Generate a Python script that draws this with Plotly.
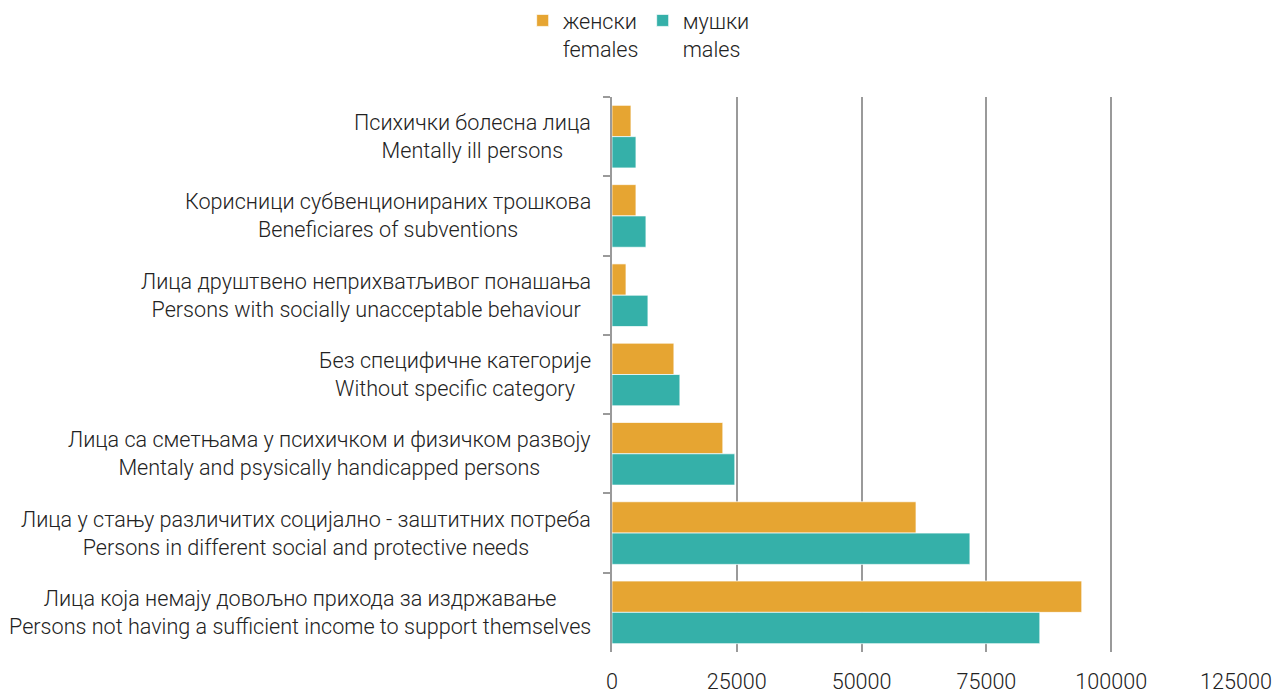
import plotly.graph_objects as go

categories_sr = [
    "Психички болесна лица",
    "Корисници субвенционираних трошкова",
    "Лица друштвено неприхватљивог понашања",
    "Без специфичне категорије",
    "Лица са сметњама у психичком и физичком развоју",
    "Лица у стању различитих социјално - заштитних потреба",
    "Лица која немају довољно прихода за издржавање",
]
categories_en = [
    "Mentally ill persons",
    "Beneficiares of subventions",
    "Persons with socially unacceptable behaviour",
    "Without specific category",
    "Mentaly and psysically handicapped persons",
    "Persons in different social and protective needs",
    "Persons not having a sufficient income to support themselves",
]
females = [3800, 4800, 2800, 12400, 22200, 60900, 94100]
males = [4800, 6800, 7200, 13600, 24600, 71700, 85700]
x_ticks = [0, 25000, 50000, 75000, 100000, 125000]

cats = [f"{a}<br>{b}" for a, b in zip(categories_sr, categories_en)]

FONT = "Roboto"
FS = 21.6
TXT = "#222222"

fig = go.Figure()
fig.add_trace(go.Bar(
    y=cats, x=females, orientation="h", name="женски<br>females",
    marker=dict(color="#E6A532", line=dict(color="rgba(255,255,255,0.7)", width=1)),
))
fig.add_trace(go.Bar(
    y=cats, x=males, orientation="h", name="мушки<br>males",
    marker=dict(color="#35B0A9", line=dict(color="rgba(255,255,255,0.7)", width=1)),
))

for c in cats:
    fig.add_annotation(
        x=0, xref="paper", y=c, yref="y", text=c, showarrow=False,
        xanchor="right", yanchor="middle", align="center", xshift=-19,
        font=dict(family=FONT, size=FS, color=TXT, weight=300),
    )

fig.update_layout(
    width=1277, height=685,
    paper_bgcolor="white", plot_bgcolor="white",
    margin=dict(l=604, r=49, t=89, b=41, autoexpand=False),
    barmode="group", bargap=0.21, bargroupgap=0,
    font=dict(family=FONT, size=FS, color=TXT, weight=300),
    showlegend=True,
    legend=dict(
        orientation="h", xref="container", yref="paper",
        x=0.497, xanchor="center", y=1.175, yanchor="top",
        font=dict(family=FONT, size=FS, color=TXT, weight=300),
        valign="top", traceorder="normal", itemwidth=30,
        entrywidth=75, entrywidthmode="pixels",
    ),
)
fig.update_xaxes(
    range=[0, 125000], tickvals=x_ticks, ticktext=[str(v) for v in x_ticks],
    showgrid=True, gridcolor="#9a9a9a", gridwidth=1.5,
    zeroline=False, showline=False, ticks="", ticklabelstandoff=14,
    automargin=False,
    tickfont=dict(family=FONT, size=FS, color=TXT, weight=300),
)
fig.update_yaxes(
    autorange="reversed", showticklabels=False,
    showline=True, linecolor="#9a9a9a", linewidth=2,
    ticks="outside", tickson="boundaries", ticklen=7, tickcolor="#9a9a9a", tickwidth=1.5,
    showgrid=False, automargin=False,
)

fig.write_html("out.html")
